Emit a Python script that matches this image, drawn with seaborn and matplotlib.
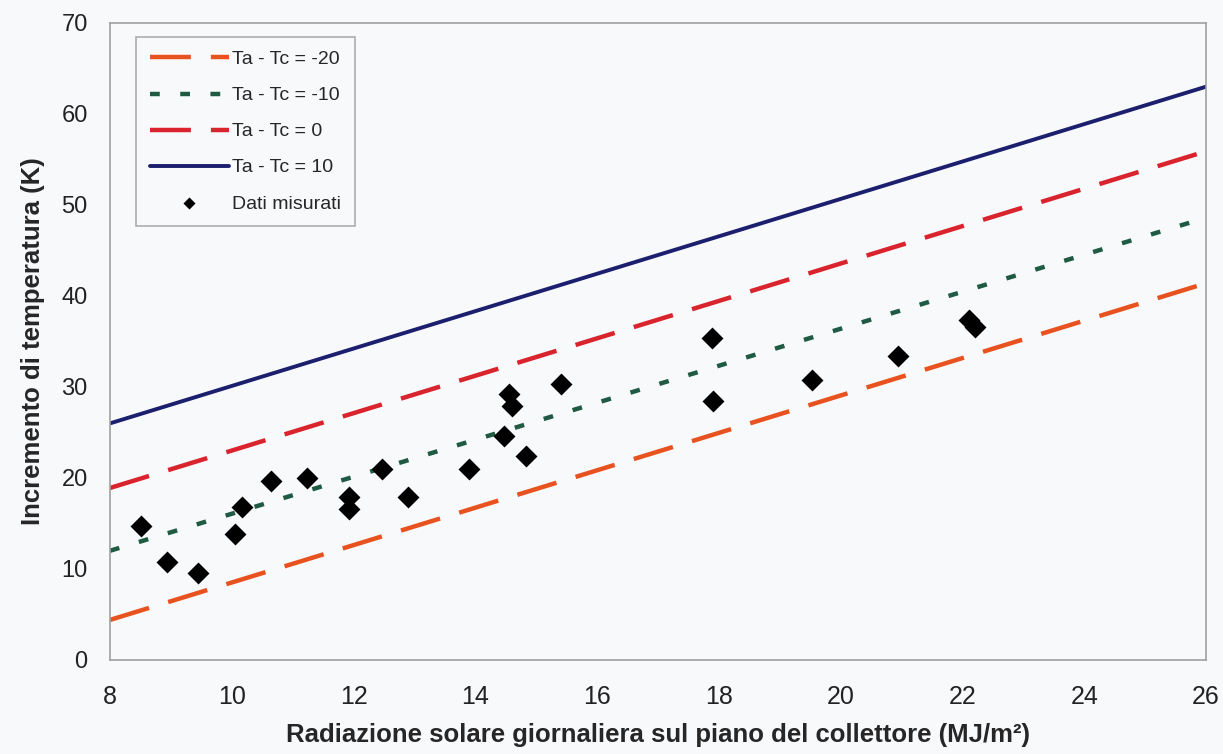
import matplotlib
matplotlib.use("Agg")
import matplotlib.pyplot as plt
import seaborn as sns
import pandas as pd

# model lines (Ta - Tc), values read at x = 8 and x = 26
line_x = [8, 26]
line_m20 = [4.4, 41.4]
line_m10 = [12.0, 48.6]
line_0 = [18.9, 55.9]
line_10 = [26.0, 63.0]

# measured data
meas_x = [8.51, 8.94, 9.45, 10.05, 10.17, 10.64, 11.24, 11.93, 11.93, 12.47, 12.90,
          13.90, 14.47, 14.55, 14.60, 14.84, 15.41, 17.88, 17.90, 19.53, 20.95,
          22.10, 22.20]
meas_y = [14.7, 10.8, 9.6, 13.8, 16.8, 19.7, 20.0, 17.9, 16.6, 21.0, 17.9,
          21.0, 24.6, 29.2, 27.9, 22.4, 30.3, 35.4, 28.5, 30.8, 33.4,
          37.4, 36.6]

sns.set_style("white")
plt.rcParams['font.family'] = ['Liberation Sans', 'DejaVu Sans']

bg = '#f8f9fb'
fig = plt.figure(figsize=(12.23, 7.54), dpi=100)
fig.patch.set_facecolor(bg)
ax = fig.add_axes([0.0899, 0.1247, 0.8962, 0.8448])
ax.set_facecolor(bg)

lines = pd.DataFrame({'x': line_x})
sns.lineplot(x=lines['x'], y=line_m20, ax=ax, color='#e8521f', lw=3.2,
             label='Ta - Tc = -20').lines[-1].set_dashes([9.2, 4.5])
sns.lineplot(x=lines['x'], y=line_m10, ax=ax, color='#1f5a43', lw=3.2,
             label='Ta - Tc = -10').lines[-1].set_dashes([2.2, 4.6])
sns.lineplot(x=lines['x'], y=line_0, ax=ax, color='#d9232d', lw=3.2,
             label='Ta - Tc = 0').lines[-1].set_dashes([9.2, 4.5])
sns.lineplot(x=lines['x'], y=line_10, ax=ax, color='#1c1f6e', lw=2.8,
             label='Ta - Tc = 10')
sns.scatterplot(x=meas_x, y=meas_y, ax=ax, marker='D', s=125, color='black',
                edgecolor='black', linewidth=0, label='Dati misurati', zorder=5)

ax.set_xlim(8, 26)
ax.set_ylim(0, 70)
ax.set_xticks(range(8, 27, 2))
ax.set_yticks(range(0, 71, 10))
ax.tick_params(axis='both', colors='#888888', labelcolor='#222222')
ax.tick_params(axis='x', labelsize=18, direction='inout', length=6, width=1, pad=15)
ax.tick_params(axis='y', labelsize=17, direction='out', length=8, width=1, pad=8)
for s in ax.spines.values():
    s.set_color('#a0a0a0')
    s.set_linewidth(1.2)

ax.set_xlabel('Radiazione solare giornaliera sul piano del collettore (MJ/m²)',
              fontsize=18.5, fontweight='bold', labelpad=10)
ax.set_ylabel('Incremento di temperatura (K)', fontsize=18.5, fontweight='bold', labelpad=12)

leg = ax.legend(loc='upper left', bbox_to_anchor=(0.0237, 0.978), fontsize=14,
                frameon=True, fancybox=False, handlelength=4.1, labelspacing=0.95,
                borderpad=0.7, handletextpad=0.15, markerscale=0.55,
                borderaxespad=0)
leg.get_frame().set_edgecolor('#999999')
leg.get_frame().set_linewidth(1.2)
leg.get_frame().set_facecolor(bg)

fig.savefig('out.png', dpi=100, facecolor=fig.get_facecolor())
